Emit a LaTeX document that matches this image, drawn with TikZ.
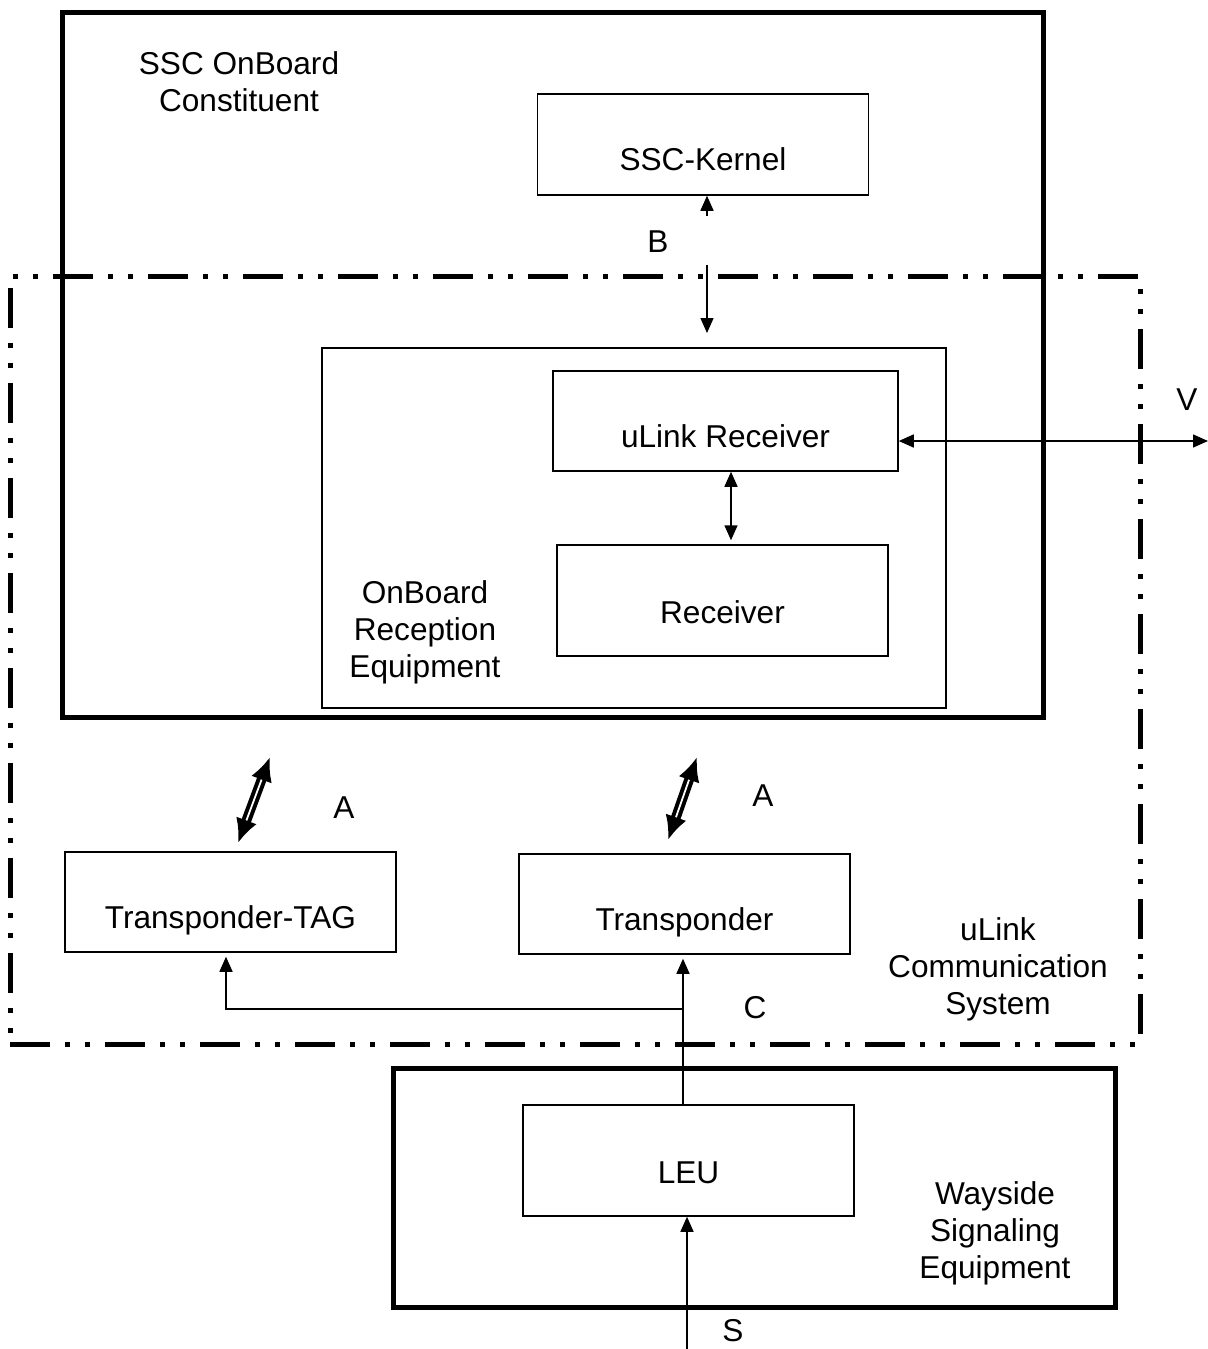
\documentclass[tikz,border=0pt]{standalone}
\usepackage{fontspec}
\setmainfont{Liberation Sans}
\usetikzlibrary{arrows.meta}

\begin{document}
\begin{tikzpicture}[x=0.5pt, y=-0.5pt,
    every node/.style={font=\fontsize{15.8}{18.5}\selectfont},
    blk/.style={draw, line width=0.75pt, minimum width=165.5pt, minimum height=50pt,
      text height=26pt, text depth=0pt, inner sep=0pt},
    frame/.style={draw, line width=2.5pt, inner sep=0pt},
    sys/.style={draw, line width=2.5pt, inner sep=0pt,
      dash pattern=on 20pt off 7.5pt on 2.5pt off 7.5pt on 2.5pt off 7.5pt},
    lbl/.style={align=center, inner sep=0pt},
    arr/.style={line width=0.75pt, -{Triangle[length=7.5pt,width=6.5pt]}},
    biarr/.style={line width=0.75pt, {Triangle[length=7.5pt,width=6.5pt]}-{Triangle[length=7.5pt,width=6.5pt]}},
    dbl/.style={double, line width=2pt, double distance=0.9pt,
      {Latex[length=12pt,width=11pt]}-{Latex[length=12pt,width=11pt]}},
  ]
  \useasboundingbox (0,0) rectangle (1208,1349);

  % outer frames
  \node[frame, minimum width=490.5pt, minimum height=352.5pt] (ssc) at (552.5, 364.5) {};
  \node[sys, minimum width=565pt, minimum height=384pt] (ucs) at (575, 660) {};
  \node[frame, minimum width=361pt, minimum height=119.5pt] (way) at (754, 1187.5) {};
  \node[draw, line width=0.75pt, minimum width=312pt, minimum height=180pt] (obre) at (634, 528) {};

  % blocks
  \node[blk, minimum height=50.5pt] (kernel) at (703, 144.5) {SSC-Kernel};
  \node[blk, minimum width=172.5pt] (ulink) at (725.5, 421) {uLink Receiver};
  \node[blk, minimum height=55.5pt, text height=23pt] (rcv) at (722.5, 600.5) {Receiver};
  \node[blk] (tag) at (230.5, 902) {Transponder-TAG};
  \node[blk] (tsp) at (684.5, 904) {Transponder};
  \node[blk, minimum height=55.5pt, text height=23pt] (leu) at (688.5, 1160.5) {LEU};

  % texts
  \node[lbl] (t-ssc) at (239, 82) {SSC OnBoard\\Constituent};
  \node[lbl] (t-obre) at (425, 632) {OnBoard\\Reception\\Equipment};
  \node[lbl] (t-ucs) at (998, 969) {uLink\\Communication\\System};
  \node[lbl] (t-way) at (995, 1233) {Wayside\\Signaling\\Equipment};
  \node[lbl] (t-b) at (658, 242) {B};
  \node[lbl] (t-v) at (1187, 400) {V};
  \node[lbl] (t-a1) at (344, 808) {A};
  \node[lbl] (t-a2) at (763, 796) {A};
  \node[lbl] (t-c) at (755, 1008) {C};
  \node[lbl] (t-s) at (733, 1331) {S};

  % connectors
  \coordinate (b1) at (707, 216);
  \coordinate (b2) at (707, 265);
  \coordinate (b3) at (707, 333);
  \draw[arr] (b1) -- (kernel.south -| b1);
  \draw[arr] (b2) -- (b3);

  \coordinate (v) at (1208, 441);
  \draw[biarr] (ulink.east |- v) -- (v);
  \draw[biarr] ([xshift=2.75pt]ulink.south) -- ([xshift=2.75pt, yshift=2pt]ulink.south |- rcv.north);

  \coordinate (a1) at (238, 843);
  \coordinate (a2) at (270, 757);
  \coordinate (a3) at (668, 840);
  \coordinate (a4) at (697, 757);
  \draw[dbl] (a1) -- (a2);
  \draw[dbl] (a3) -- (a4);

  \coordinate (c) at (683, 1009);
  \draw[arr] (leu.north -| c) -- ([yshift=-2pt]tsp.south -| c);
  \draw[arr] (c) -- (226, 1009) -- ([yshift=-2pt]tag.south -| 226, 0);

  \coordinate (s) at (687, 1349);
  \draw[arr] (s) -- (leu.south -| s);
\end{tikzpicture}
\end{document}
